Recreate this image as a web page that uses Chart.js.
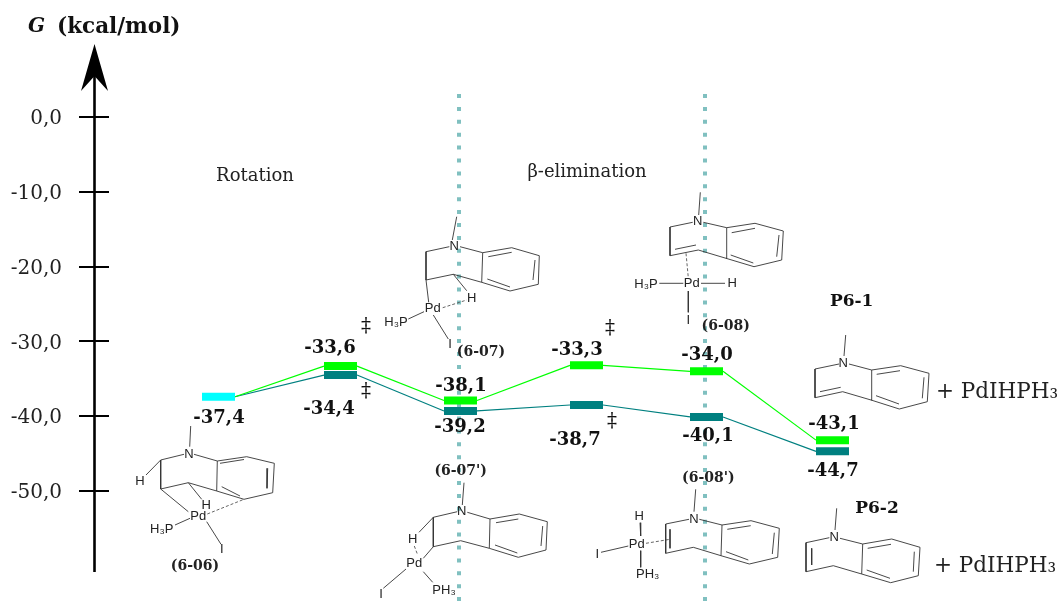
<!DOCTYPE html>
<html>
<head>
<meta charset="utf-8">
<style>
  html, body { margin: 0; padding: 0; background: #fff; overflow: hidden; }
  canvas { display: block; }
</style>
<script src="https://cdn.jsdelivr.net/npm/chart.js@4/dist/chart.umd.min.js"></script>
</head>
<body>
<canvas id="chart" width="1061" height="608"></canvas>
<script>
// Energy axis
const yTicks = [0, -10, -20, -30, -40, -50];

// Reaction path: left and right ends of every level
const levelStart = [324, 444, 570, 690, 816];
const levelEnd = [357, 477, 603, 723, 849];
const cyanStart = [202];
const cyanEnd = [235];

// Energies
const cyanValues = [-37.4];
const greenValues = [-33.3, -37.9, -33.2, -34.0, -43.2];
const tealValues = [-34.5, -39.3, -38.5, -40.1, -44.7];

// Printed energies
const cyanLabels = ['-37,4'];
const greenLabels = ['-33,6', '-38,1', '-33,3', '-34,0', '-43,1'];
const tealLabels = ['-34,4', '-39,2', '-38,7', '-40,1', '-44,7'];

const cyanLabelPos = [[219, 418]];
const greenLabelPos = [[330, 348], [461, 386], [577, 350], [707, 355], [834, 424]];
const tealLabelPos = [[329, 409], [460, 427], [575, 440], [708, 436], [833, 471]];

const daggerPos = [[366, 327], [366, 392], [610, 329], [612, 422]];
const dottedLinesX = [459, 705];

// Molecule drawings: every list is one polyline x,y,x,y...
const mol0606 = [
  [190.7, 426, 189.7, 446.7], [184, 454.3, 160.7, 460, 160.7, 489, 188.3, 482.7, 216.7, 491],
  [160.7, 460, 146, 475], [160.7, 489, 188.3, 511.7], [188.3, 482.7, 201.7, 499.3],
  [194, 454.3, 217.3, 461, 246.7, 456.7, 274.3, 463.3, 272.7, 492.7, 244, 499.3, 216.7, 491, 217.3, 461],
  [220, 463.3, 244, 459.5], [267.7, 468.3, 267, 488.3], [221.7, 486.7, 240, 496],
  [175, 525, 190, 518.3], [206.7, 521.7, 221, 544.3]
];
const mol0606Dash = [[207.3, 514, 244, 499.3]];

const mol0607 = [
  [456.7, 216.7, 452.3, 240], [449.3, 246.7, 426, 251.7, 426, 280, 453.3, 274.3, 481.7, 282.3],
  [426, 280, 428.7, 302.3], [453.3, 274.3, 466.7, 290.7],
  [460, 246.7, 482.7, 252.7, 511.7, 247.7, 539.3, 255.7, 538.3, 284.3, 510, 291, 481.7, 282.3, 482.7, 252.7],
  [488.3, 256.7, 511.7, 252.3], [535, 260, 533, 280], [487.3, 279, 510, 287],
  [408.3, 319, 424, 311.7], [433.3, 315, 448.3, 339]
];
const mol0607Dash = [[442.7, 307.7, 466.7, 300]];

const mol0608 = [
  [700.3, 192.3, 698.7, 215], [692.7, 222.3, 670, 227, 670, 255.7, 698.3, 250, 726, 258.3],
  [675, 249.3, 696, 245],
  [703.3, 222.3, 726.7, 227.7, 755, 223.3, 783.3, 231, 781.7, 260, 754, 266.7, 726, 258.3, 726.7, 227.7],
  [731.7, 232.7, 755, 228.3], [779, 235, 776.7, 256.7], [730.7, 255, 753.3, 263],
  [659.3, 283.3, 683.3, 283.3], [701, 283.3, 725, 283.3], [688.3, 291, 688.3, 312.3]
];
const mol0608Dash = [[686, 253.3, 688.3, 277.7]];

const mol0607b = [
  [464, 482.7, 462.3, 505], [457.3, 511.7, 433.3, 517.3, 433.3, 546.7, 460.7, 540.7, 489.3, 548.3],
  [433.3, 517.3, 419, 532.3], [433.3, 546.7, 423.3, 558.3],
  [467.3, 512.3, 490, 519, 519.3, 514, 547.3, 521.7, 546, 550, 518.3, 557.3, 489.3, 548.3, 490, 519],
  [496, 522.7, 518.3, 519], [542.7, 526, 541, 546], [495, 545, 517.3, 553],
  [406, 569, 383.3, 588.3], [423.3, 571.7, 432.7, 582.3]
];
const mol0607bDash = [[414.3, 546, 417.7, 555]];

const mol0608b = [
  [695.7, 489.3, 694, 511.7], [689, 519.3, 665.7, 524, 665.7, 553.3, 693.3, 547.3, 721, 555.7],
  [670, 529.3, 670, 548.3],
  [699.3, 519.3, 722, 525, 751, 520.7, 779.3, 528.3, 777.7, 557.3, 749.3, 564, 721, 555.7, 722, 525],
  [727.3, 529.3, 750.7, 525.7], [774.3, 532.7, 772.3, 554], [726, 551.7, 748.3, 560],
  [640, 522.7, 640.7, 536], [601, 552.3, 628.3, 546], [640.7, 550.7, 640.7, 567.3]
];
const mol0608bDash = [[646, 543.3, 670, 539.3]];

const molP61 = [
  [845.7, 335, 844, 356], [839, 364, 815, 369, 815, 397.7, 842.7, 391.7, 871, 400],
  [820, 391.7, 840.7, 387.3],
  [849, 364, 871.7, 370, 900.7, 365.7, 929, 373.3, 927.3, 401.7, 899.3, 409, 871, 400, 871.7, 370],
  [876.7, 374.3, 900, 370.7], [924, 377.3, 922.3, 398.3], [876, 395.7, 899, 404]
];

const molP62 = [
  [836.7, 508.3, 835, 530], [829.3, 537.7, 806, 542.7, 806, 571.7, 833.3, 565.7, 861.7, 574],
  [811.7, 548.3, 811.7, 565],
  [840, 538.3, 862.7, 544, 891.7, 539, 920, 547.3, 918.3, 575.7, 890.7, 582.7, 861.7, 574, 862.7, 544],
  [867.7, 548.3, 891, 544.3], [914.3, 551.7, 913.3, 571.7], [866.7, 570, 890, 578.3]
];

// Atoms: text, x, y
const atoms = [
  ['N', 189, 454.3], ['H', 140, 481.7], ['H', 206.3, 505], ['Pd', 198.3, 516.7], ['H₃P', 161.7, 529.3], ['I', 221.7, 549.3],
  ['N', 454.3, 246], ['Pd', 432.7, 308.3], ['H', 471.7, 298.3], ['H₃P', 396, 322.3], ['I', 450, 344.3],
  ['N', 697.7, 221.7], ['Pd', 691.7, 283.3], ['H₃P', 646, 284.3], ['H', 732.3, 283.3], ['I', 688.3, 320],
  ['N', 461.7, 511.7], ['H', 412.7, 539], ['Pd', 414.3, 563.3], ['I', 381, 594], ['PH₃', 444, 590.7],
  ['N', 694, 519], ['H', 639.3, 516], ['Pd', 636.7, 544.3], ['I', 597.3, 554], ['PH₃', 647.7, 574],
  ['N', 843.3, 363.3], ['N', 834.3, 537.3]
];

// Structure names: text, x, y
const names = [
  ['(6-06)', 195, 566], ['(6-07)', 481, 352.7], ['(6-08)', 725.7, 326],
  ["(6-07')", 460.7, 471.7], ["(6-08')", 708.3, 478.3]
];
const productNames = [['P6-1', 851.7, 301.7], ['P6-2', 877, 508.3]];

const SERIF = '"DejaVu Serif", serif';
const BOLD = '"DejaVu Serif", serif';
const LEVEL_WIDTH = 8;
const AXIS_X_OFFSET = 15;

function pathPoints(startX, startValue, values) {
  const points = [{ x: startX, y: startValue }];
  values.forEach((v, i) => {
    points.push({ x: levelStart[i], y: v });
    points.push({ x: levelEnd[i], y: v });
  });
  return points;
}

function polylinePoints(lists) {
  const points = [];
  lists.forEach(list => {
    for (let i = 0; i < list.length; i += 2) points.push({ x: list[i], y: list[i + 1] });
    points.push({ x: NaN, y: NaN });
  });
  return points;
}

function molDataset(lists, dashed) {
  return {
    data: polylinePoints(lists),
    yAxisID: 'py',
    borderColor: dashed ? '#555' : '#333',
    borderWidth: 0.9,
    borderDash: dashed ? [3, 2] : [],
    pointRadius: 0,
    spanGaps: false,
    order: 3
  };
}

function pathDataset(values, color) {
  return {
    data: pathPoints(cyanEnd[0], cyanValues[0], values),
    yAxisID: 'y',
    borderColor: color,
    borderWidth: 1.2,
    pointRadius: 0,
    order: 1,
    segment: { borderWidth: ctx => (ctx.p0DataIndex % 2 === 0 ? 1.2 : LEVEL_WIDTH) }
  };
}

const datasets = [
  pathDataset(greenValues, '#00ff00'),
  pathDataset(tealValues, '#008080'),
  {
    data: [{ x: cyanStart[0], y: cyanValues[0] }, { x: cyanEnd[0], y: cyanValues[0] }],
    yAxisID: 'y',
    borderColor: '#00ffff',
    borderWidth: LEVEL_WIDTH,
    pointRadius: 0,
    order: 0
  }
];

[mol0606, mol0607, mol0608, mol0607b, mol0608b, molP61, molP62].forEach(m => datasets.push(molDataset(m, false)));
[mol0606Dash, mol0607Dash, mol0608Dash, mol0607bDash, mol0608bDash].forEach(m => datasets.push(molDataset(m, true)));

dottedLinesX.forEach(x => {
  datasets.push({
    data: [{ x: x, y: 94 }, { x: x, y: 608 }],
    yAxisID: 'py',
    borderColor: '#80c0c0',
    borderWidth: 4,
    borderDash: [4, 8.9],
    pointRadius: 0,
    order: 5
  });
});

// Axis line with its arrow head, and all the text of the drawing
const drawingPlugin = {
  id: 'drawing',
  afterDatasetsDraw(chart) {
    const ctx = chart.ctx;
    const py = chart.scales.py;
    const px = chart.scales.x;
    const axisX = chart.chartArea.left - AXIS_X_OFFSET + 0.5;

    ctx.save();
    ctx.strokeStyle = '#000';
    ctx.lineWidth = 2.6;
    ctx.beginPath();
    ctx.moveTo(axisX, py.getPixelForValue(76));
    ctx.lineTo(axisX, py.getPixelForValue(572));
    ctx.stroke();

    ctx.fillStyle = '#000';
    ctx.beginPath();
    ctx.moveTo(axisX, py.getPixelForValue(44));
    ctx.lineTo(axisX + 13.5, py.getPixelForValue(91));
    ctx.lineTo(axisX, py.getPixelForValue(76));
    ctx.lineTo(axisX - 13.5, py.getPixelForValue(91));
    ctx.closePath();
    ctx.fill();

    function text(str, x, y, font, align, color) {
      ctx.font = font;
      ctx.textAlign = align || 'center';
      ctx.textBaseline = 'middle';
      ctx.fillStyle = color || '#000';
      ctx.fillText(str, px.getPixelForValue(x), py.getPixelForValue(y));
    }

    // Axis title
    text('G', 28, 27, 'italic bold 20px ' + BOLD, 'left', '#111');
    text('(kcal/mol)', 57, 27, 'bold 21.5px ' + BOLD, 'left', '#111');

    // Section titles
    text('Rotation', 255, 176, '18px ' + SERIF, 'center', '#222');
    text('β-elimination', 587, 172, '18px ' + SERIF, 'center', '#222');

    // Energy labels
    const labelFont = 'bold 18px ' + BOLD;
    cyanLabels.forEach((l, i) => text(l, cyanLabelPos[i][0], cyanLabelPos[i][1], labelFont, 'center', '#111'));
    greenLabels.forEach((l, i) => text(l, greenLabelPos[i][0], greenLabelPos[i][1], labelFont, 'center', '#111'));
    tealLabels.forEach((l, i) => text(l, tealLabelPos[i][0], tealLabelPos[i][1], labelFont, 'center', '#111'));

    daggerPos.forEach(p => text('‡', p[0], p[1], '20px ' + SERIF, 'center', '#111'));

    atoms.forEach(a => text(a[0], a[1], a[2], '13px "Liberation Sans", sans-serif', 'center', '#222'));
    names.forEach(n => text(n[0], n[1], n[2], 'bold 14px ' + BOLD, 'center', '#222'));
    productNames.forEach(n => text(n[0], n[1], n[2], 'bold 17px ' + BOLD, 'center', '#111'));

    text('+ PdIHPH₃', 936, 392, '21.5px ' + SERIF, 'left', '#222');
    text('+ PdIHPH₃', 934, 566, '21.5px ' + SERIF, 'left', '#222');
    ctx.restore();
  }
};

new Chart(document.getElementById('chart').getContext('2d'), {
  type: 'line',
  data: { datasets: datasets },
  plugins: [drawingPlugin],
  options: {
    responsive: false,
    animation: false,
    events: [],
    layout: { padding: 0 },
    plugins: { legend: { display: false }, tooltip: { enabled: false } },
    scales: {
      x: { type: 'linear', display: false, min: 109, max: 1061 },
      py: { type: 'linear', display: false, min: 0, max: 608, reverse: true },
      y: {
        type: 'linear',
        position: 'left',
        min: -65.64,
        max: 15.64,
        border: { display: false },
        grid: { drawOnChartArea: false, drawTicks: true, tickLength: 30, tickColor: '#000', lineWidth: 2 },
        ticks: {
          autoSkip: false,
          padding: 17,
          labelOffset: 2,
          color: '#222',
          font: { family: SERIF, size: 20 },
          callback: v => v.toFixed(1).replace('.', ',')
        },
        afterBuildTicks: scale => { scale.ticks = yTicks.map(v => ({ value: v })); },
        afterFit: scale => {
          scale.width = 109;
          scale.paddingTop = 0;
          scale.paddingBottom = 0;
        }
      }
    }
  }
});
</script>
</body>
</html>
